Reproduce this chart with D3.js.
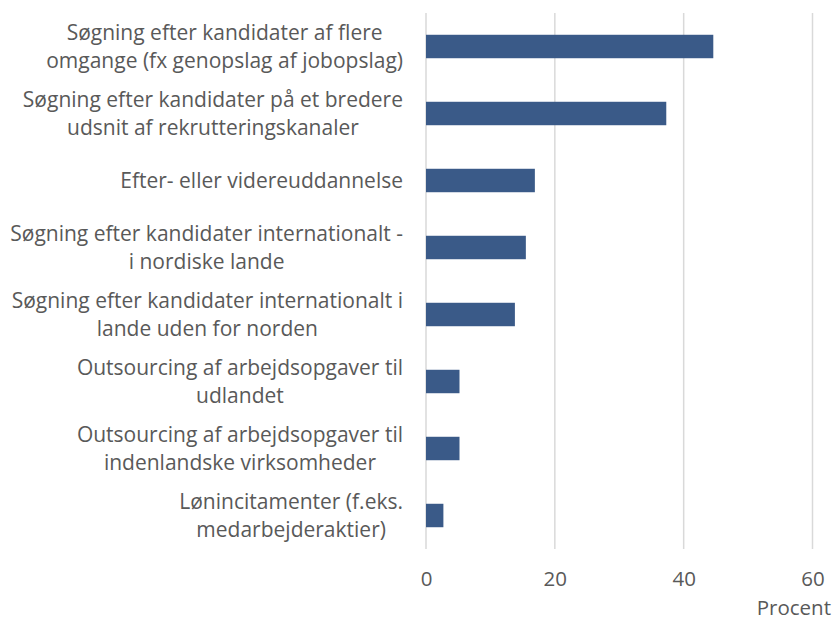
<!DOCTYPE html>
<html>
<head>
<meta charset="utf-8">
<script src="https://cdn.jsdelivr.net/npm/d3@7"></script>
<style>
  body { margin: 0; background: #fff; }
  text { font-family: "Open Sans", sans-serif; fill: #595959; }
</style>
</head>
<body>
<div id="chart"></div>
<script>
// Kategorier (hver linje er en linje i etiketten)
var categories = [
    ["Søgning efter kandidater af flere", "omgange (fx genopslag af jobopslag)"],
    ["Søgning efter kandidater på et bredere", "udsnit af rekrutteringskanaler"],
    ["Efter- eller videreuddannelse"],
    ["Søgning efter kandidater internationalt -", "i nordiske lande"],
    ["Søgning efter kandidater internationalt i", "lande uden for norden"],
    ["Outsourcing af arbejdsopgaver til", "udlandet"],
    ["Outsourcing af arbejdsopgaver til", "indenlandske virksomheder"],
    ["Lønincitamenter (f.eks.", "medarbejderaktier)"]
];
var values = [44.6, 37.3, 16.9, 15.5, 13.8, 5.2, 5.2, 2.7];
var xTicks = [0, 20, 40, 60];
var xLabel = "Procent";

var W = 835, H = 621;
var margin = { top: 13, right: 22, bottom: 72, left: 426 };
var width = W - margin.left - margin.right,
    height = H - margin.top - margin.bottom;

var data = categories.map((c, i) => ({ id: i, lines: c, value: values[i] }));

var svg = d3.select("#chart").append("svg")
    .attr("width", W)
    .attr("height", H)
    .append("g")
    .attr("transform", `translate(${margin.left},${margin.top})`);

var x = d3.scaleLinear().domain([0, 60]).range([0, 386.5]);
var y = d3.scaleBand().domain(data.map(d => d.id)).range([0, height]).paddingInner(0.65).paddingOuter(0.325);

// Gitterlinjer
svg.selectAll(".grid")
   .data(xTicks)
   .enter().append("line")
   .attr("x1", d => x(d)).attr("x2", d => x(d))
   .attr("y1", 0).attr("y2", height)
   .attr("stroke", "#d9d9d9")
   .attr("stroke-width", 1.5);

// Søjler
svg.selectAll(".bar")
   .data(data)
   .enter().append("rect")
   .attr("x", x(0))
   .attr("y", d => y(d.id))
   .attr("width", d => x(d.value) - x(0))
   .attr("height", y.bandwidth())
   .attr("fill", "#3a5a88");

// X-akse
var xAxis = svg.append("g")
   .attr("transform", `translate(0,${height})`)
   .call(d3.axisBottom(x).tickValues(xTicks).tickSize(0).tickPadding(22.5));
xAxis.select(".domain").remove();
xAxis.selectAll("text").style("font-size", "20.5px").attr("fill", "#595959");

svg.append("text")
   .attr("x", W - margin.left - 4)
   .attr("y", height + 65.5)
   .attr("text-anchor", "end")
   .style("font-size", "20.5px")
   .text(xLabel);

// Kategorietiketter: centreret tekst, blokken højrejusteret
var labelRight = -23, lineH = 28.5;
var labels = svg.selectAll(".lbl")
   .data(data)
   .enter().append("text")
   .attr("class", "lbl")
   .attr("text-anchor", "middle")
   .style("font-size", "21px");

labels.each(function(d) {
    var t = d3.select(this);
    var cy = y(d.id) + y.bandwidth() / 2;
    var n = d.lines.length;
    d.lines.forEach((ln, i) => {
        t.append("tspan")
         .attr("y", cy + (i - (n - 1) / 2) * lineH)
         .attr("dy", "0.35em")
         .text(ln);
    });
    var maxW = d3.max(t.selectAll("tspan").nodes(), n => n.getComputedTextLength());
    t.selectAll("tspan").attr("x", labelRight - maxW / 2);
});
</script>
</body>
</html>
